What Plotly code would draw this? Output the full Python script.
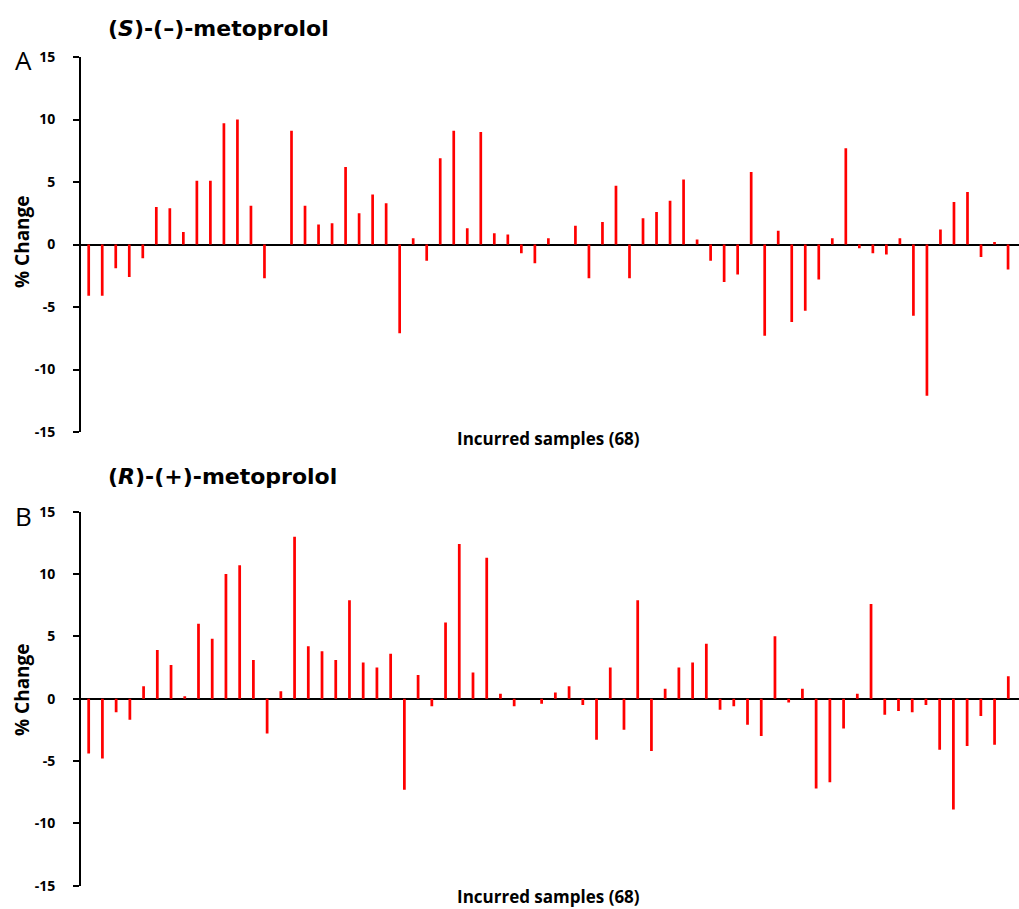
import plotly.graph_objects as go

# Panel A: (S)-(-)-metoprolol, % change per incurred sample (slot order as drawn)
values_s = [-4.1, -4.1, -1.9, -2.6, -1.1, 3.0, 2.9, 1.0, 5.1, 5.1,
            9.7, 10.0, 3.1, -2.7, 0.0, 9.1, 3.1, 1.6, 1.7, 6.2,
            2.5, 4.0, 3.3, -7.1, 0.5, -1.3, 6.9, 9.1, 1.3, 9.0,
            0.9, 0.8, -0.7, -1.5, 0.5, 0.0, 1.5, -2.7, 1.8, 4.7,
            -2.7, 2.1, 2.6, 3.5, 5.2, 0.4, -1.3, -3.0, -2.4, 5.8,
            -7.3, 1.1, -6.2, -5.3, -2.8, 0.5, 7.7, -0.3, -0.7, -0.8,
            0.5, -5.7, -12.1, 1.2, 3.4, 4.2, -1.0, 0.2, -2.0]

# Panel B: (R)-(+)-metoprolol
values_r = [-4.4, -4.8, -1.1, -1.7, 1.0, 3.9, 2.7, 0.2, 6.0, 4.8,
            10.0, 10.7, 3.1, -2.8, 0.6, 13.0, 4.2, 3.8, 3.1, 7.9,
            2.9, 2.5, 3.6, -7.3, 1.9, -0.6, 6.1, 12.4, 2.1, 11.3,
            0.4, -0.6, 0.0, -0.4, 0.5, 1.0, -0.5, -3.3, 2.5, -2.5,
            7.9, -4.2, 0.8, 2.5, 2.9, 4.4, -0.9, -0.6, -2.1, -3.0,
            5.0, -0.3, 0.8, -7.2, -6.7, -2.4, 0.4, 7.6, -1.3, -1.0,
            -1.1, -0.5, -4.1, -8.9, -3.8, -1.4, -3.7, 1.8]

samples_s = list(range(1, len(values_s) + 1))
samples_r = list(range(1, len(values_r) + 1))

y_ticks = [-15, -10, -5, 0, 5, 10, 15]
y_ticktext = ["-15", "-10", "-5", "0", "5", "10", "15"]

W, H = 1019, 909
FONT = "Open Sans"
WIDE = "DejaVu Sans"

def py(px):
    return 1 - px / H

def pxx(px):
    return px / W

fig = go.Figure()
fig.add_trace(go.Bar(x=samples_s, y=values_s, marker_color="#ff0000",
                     marker_line_width=0, xaxis="x", yaxis="y", showlegend=False))
fig.add_trace(go.Bar(x=samples_r, y=values_r, marker_color="#ff0000",
                     marker_line_width=0, xaxis="x2", yaxis="y2", showlegend=False))

x_left = pxx(81)

yax = dict(range=[-15, 15], tickvals=y_ticks, ticktext=y_ticktext,
           showline=True, linecolor="black", linewidth=2,
           ticks="outside", ticklen=6, tickwidth=2, tickcolor="black",
           ticklabelstandoff=15, automargin=False,
           tickfont=dict(family=FONT, size=14, color="black", weight="bold"),
           showgrid=False, zeroline=True, zerolinecolor="black", zerolinewidth=2)
xax = dict(showline=False, showticklabels=False, ticks="", showgrid=False,
           zeroline=False, automargin=False)

fig.update_layout(
    width=W, height=H,
    margin=dict(l=0, r=0, t=0, b=0, pad=0, autoexpand=False),
    paper_bgcolor="white", plot_bgcolor="white",
    bargap=0.8,
    xaxis=dict(xax, domain=[x_left, 1], anchor="y", range=[0.43, len(values_s) + 0.81]),
    yaxis=dict(yax, domain=[py(432), py(57)], anchor="x"),
    xaxis2=dict(xax, domain=[x_left, 1], anchor="y2", range=[0.44, len(values_r) + 0.78]),
    yaxis2=dict(yax, domain=[py(885.6), py(511.7)], anchor="x2"),
)

ann = []
def text(x, y, s, size, family=FONT, bold=True, xanchor="center", angle=0):
    ann.append(dict(x=pxx(x), y=py(y), xref="paper", yref="paper", text=s,
                    showarrow=False, xanchor=xanchor, yanchor="middle", textangle=angle,
                    font=dict(family=family, size=size, color="black",
                              weight="bold" if bold else "normal")))

text(106, 28, "(<i>S</i>)-(–)-metoprolol", 22, family=WIDE, xanchor="left")
text(106, 476, "(<i>R</i>)-(+)-metoprolol", 22, family=WIDE, xanchor="left")
text(23, 60, "A", 26, bold=False)
text(23, 516, "B", 26, bold=False)
text(22, 242, "% Change", 19, angle=-90)
text(22, 690, "% Change", 19, angle=-90)
text(548, 438, "Incurred samples (68)", 17)
text(548, 896, "Incurred samples (68)", 17)

fig.update_layout(annotations=ann)
fig.write_html("out.html",
               config={"displayModeBar": False},
               post_script="var gd=document.getElementById('{plot_id}');"
                           "gd.style.position='fixed';gd.style.top='0px';gd.style.left='0px';"
                           "document.body.style.margin='0';"
                           "document.documentElement.style.overflow='hidden';"
                           "document.body.style.overflow='hidden';")
